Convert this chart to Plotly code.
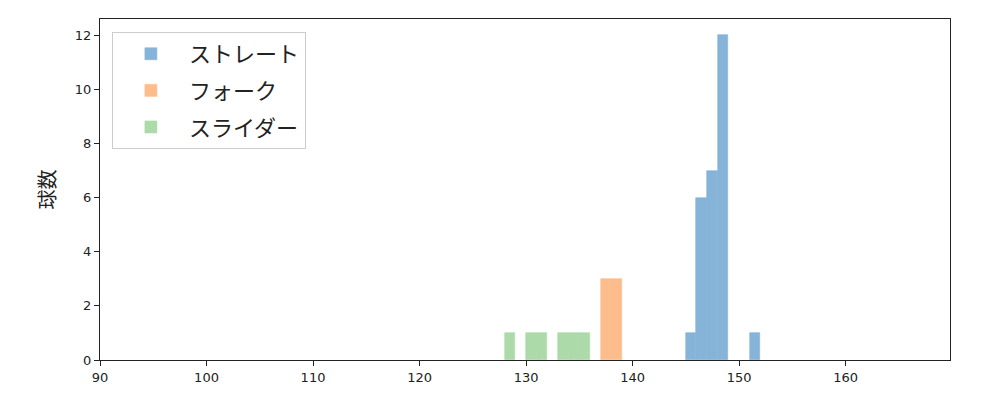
import plotly.graph_objects as go

# Data (bin left edges, counts)
straight_bins = [145, 146, 147, 148, 151]
straight_counts = [1, 6, 7, 12, 1]
fork_bins = [137, 138]
fork_counts = [3, 3]
slider_bins = [128, 130, 131, 133, 134, 135]
slider_counts = [1, 1, 1, 1, 1, 1]

names = ["ストレート", "フォーク", "スライダー"]
colors = ["#86b4d8", "#fdbc8b", "#acdaa9"]

fig = go.Figure()
for name, bins, counts, col in zip(names,
                                   [straight_bins, fork_bins, slider_bins],
                                   [straight_counts, fork_counts, slider_counts],
                                   colors):
    fig.add_trace(go.Bar(x=bins, y=counts, width=1, offset=0, name=name,
                         legendgroup=name,
                         marker=dict(color=col, line=dict(width=0.6, color=col))))

axis_common = dict(showline=True, linecolor="#222", linewidth=1.3, mirror=True,
                   ticks="outside", ticklen=5, tickcolor="#222", showgrid=False,
                   zeroline=False, automargin=False,
                   tickfont=dict(size=13, color="#222"))

fig.update_layout(
    width=1000, height=400,
    margin=dict(l=92, r=58, t=11, b=48),
    plot_bgcolor="white", paper_bgcolor="white",
    barmode="overlay", bargap=0,
    font=dict(family="DejaVu Sans, Noto Sans CJK JP", color="#222"),
    xaxis=dict(range=[90, 169.8], tickvals=[90, 100, 110, 120, 130, 140, 150, 160], **axis_common),
    yaxis=dict(range=[0, 12.6], tickvals=[0, 2, 4, 6, 8, 10, 12],
               title=dict(text="球数", font=dict(size=20, family="Noto Sans CJK JP"), standoff=13),
               **axis_common),
    legend=dict(x=0.014, y=0.962, xanchor="left", yanchor="top",
                bgcolor="white", bordercolor="#ccc", borderwidth=1,
                font=dict(size=22, family="Noto Sans CJK JP"), itemwidth=66,
                traceorder="grouped", tracegroupgap=5),
)

fig.write_html("out.html")
